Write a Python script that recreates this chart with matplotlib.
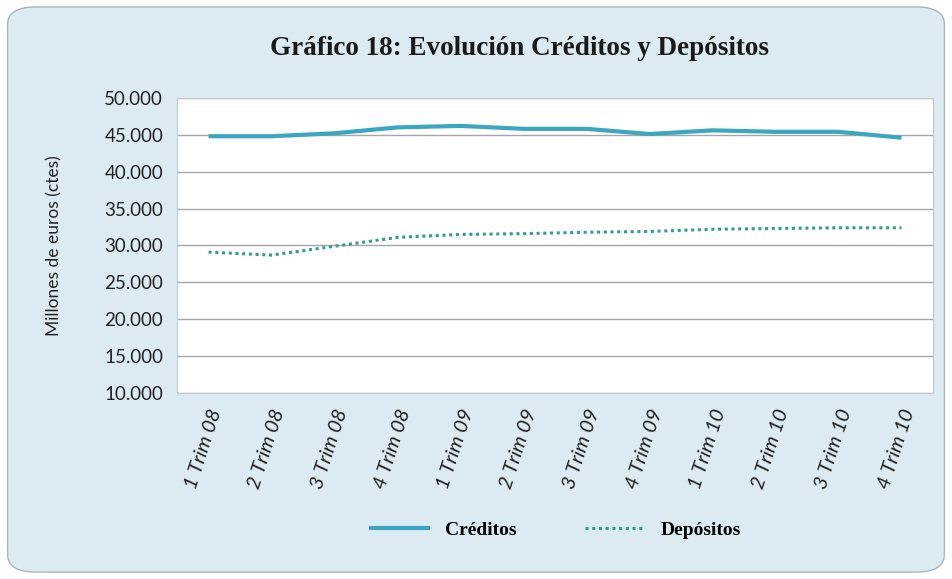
import matplotlib.pyplot as plt
from matplotlib.patches import FancyBboxPatch

trimestres = ["1 Trim 08", "2 Trim 08", "3 Trim 08", "4 Trim 08",
              "1 Trim 09", "2 Trim 09", "3 Trim 09", "4 Trim 09",
              "1 Trim 10", "2 Trim 10", "3 Trim 10", "4 Trim 10"]
creditos = [44800, 44800, 45200, 46000, 46200, 45800, 45800, 45100, 45600, 45400, 45400, 44600]
depositos = [29100, 28700, 29900, 31100, 31500, 31600, 31800, 31900, 32200, 32300, 32400, 32400]
yticks = [10000, 15000, 20000, 25000, 30000, 35000, 40000, 45000, 50000]

fig = plt.figure(figsize=(9.52, 5.79), dpi=100)
fig.patch.set_facecolor("white")
bg = FancyBboxPatch((0.008, 0.012), 0.984, 0.976, boxstyle="round,pad=0,rounding_size=0.03",
                    transform=fig.transFigure, facecolor="#dcebf2", edgecolor="#a9b5bb",
                    linewidth=1.0, zorder=-1)
fig.patches.append(bg)

ax = fig.add_axes([0.186, 0.321, 0.794, 0.510])
ax.set_facecolor("white")
x = list(range(len(trimestres)))
ax.plot(x, creditos, color="#3aa6c0", linewidth=3, label="Créditos", solid_capstyle="butt")
ax.plot(x, depositos, color="#2f9f86", linewidth=2.2, linestyle=(0, (1, 1.2)), label="Depósitos")

ax.set_xlim(-0.5, len(trimestres) - 0.5)
ax.set_ylim(10000, 50000)
ax.set_yticks(yticks)
ax.set_yticklabels([f"{v:,}".replace(",", ".") for v in yticks], fontsize=13.5,
                   fontfamily="Lato", color="#222222")
ax.set_xticks(x)
ax.set_xticklabels(trimestres, rotation=72, ha="right", rotation_mode="anchor",
                   fontsize=14.5, fontfamily="Lato", fontstyle="italic", color="#222222")
ax.tick_params(axis="both", length=0, pad=10)
ax.tick_params(axis="x", pad=10)
ax.grid(axis="y", color="#a6a6a6", linewidth=1)
ax.set_axisbelow(True)
for s in ax.spines.values():
    s.set_color("#c8c8c8")

ax.set_ylabel("Millones de euros (ctes)", fontsize=12.5, fontfamily="Lato", color="#222222", labelpad=30)

fig.text(0.546, 0.916, "Gráfico 18: Evolución Créditos y Depósitos", ha="center", va="center",
         fontsize=19.5, fontweight="bold", fontfamily="Liberation Serif", color="#1a1a1a")

leg = fig.legend(loc="center", bbox_to_anchor=(0.583, 0.085), ncol=2, frameon=False,
                 prop={"family": "Liberation Serif", "weight": "bold", "size": 14},
                 handlelength=3.1, columnspacing=3.5)

plt.savefig("out.png", dpi=100)
